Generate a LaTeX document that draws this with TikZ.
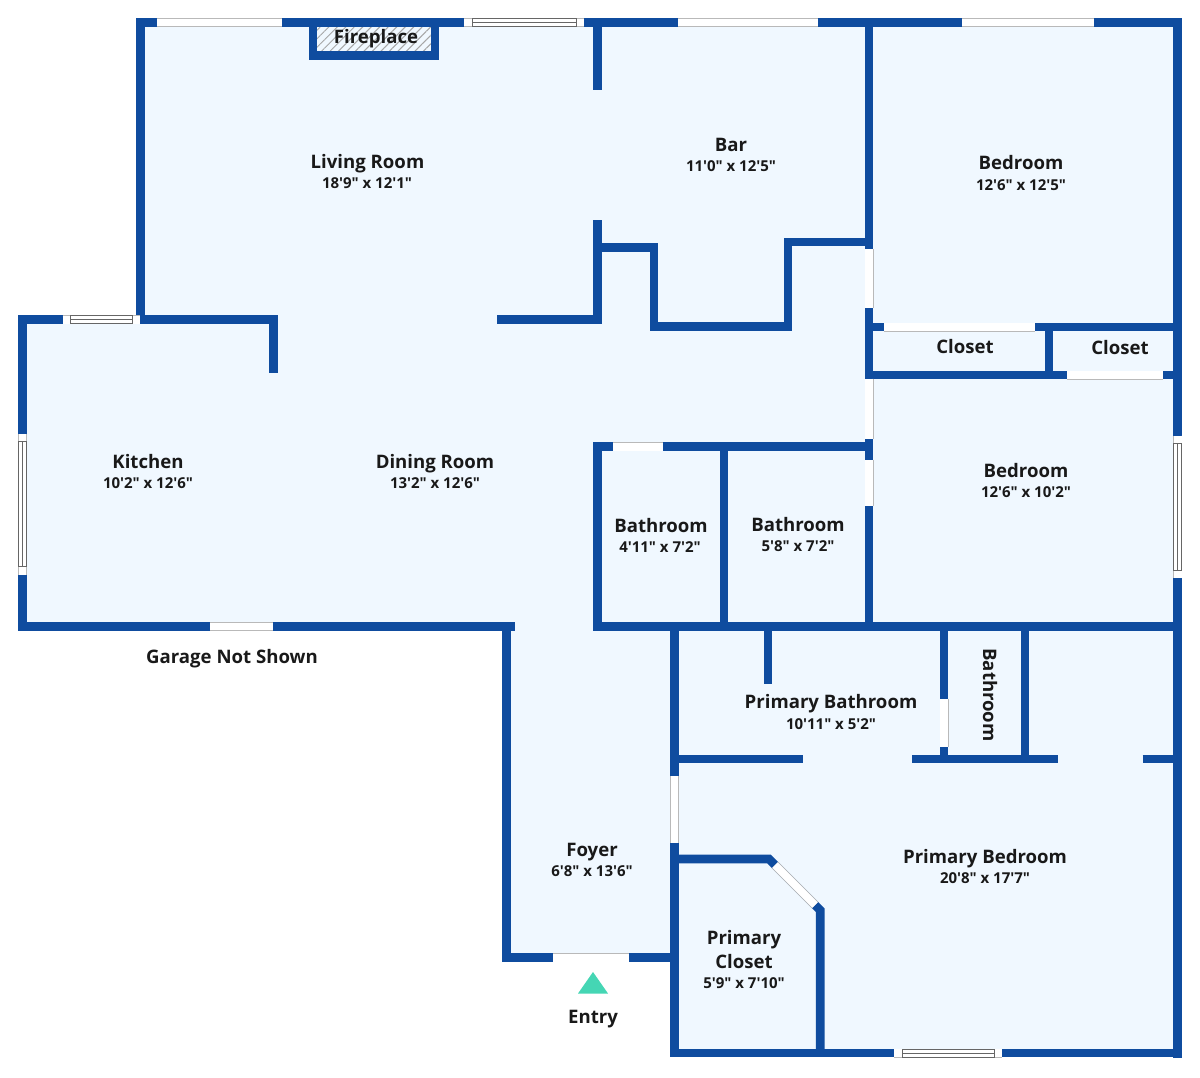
\documentclass[tikz,border=0pt]{standalone}
\usepackage{fontspec}
\setmainfont[Ligatures = TeXOff]{Open Sans}
\usetikzlibrary{patterns.meta}
\definecolor{wallblue}{HTML}{0F4C9F}
\definecolor{floorblue}{HTML}{F0F8FF}
\definecolor{entrygreen}{HTML}{45D6B4}
\tikzset{wall/.style = {draw = wallblue, line width = 8.7pt, line cap = butt, miter limit = 10}}
\tikzset{gap/.style = {draw = gray!55, line width = 0.7pt, double = white, double distance = 7.6pt}}
\tikzset{pane/.style = {draw = black!60, line width = 0.8pt}}
\tikzset{roomname/.style = {anchor = base, text = black!90, font = \fontsize{18.6}{22}\selectfont\bfseries}}
\tikzset{roomsize/.style = {anchor = base, text = black!90, font = \fontsize{15}{18}\selectfont\bfseries}}
\begin{document}
\begin{tikzpicture}[x = 1pt, y = -1pt]
      \useasboundingbox [fill = white] (0, 0) rectangle (1200, 1077);
      \fill [floorblue] (140, 22) -- (1178, 22) -- (1178, 1053) -- (675, 1053) -- (675, 958)
        -- (506, 958) -- (506, 626) -- (22, 626) -- (22, 320) -- (140, 320) -- cycle;
      \pattern [pattern = {Lines[angle = 45, distance = 6pt, line width = 1pt]}, pattern color = gray!70]
        (317, 26) rectangle (431, 52);
      \draw [wall] (136, 22.3) -- (1182, 22.3);
      \draw [wall] (1177.7, 18) -- (1177.7, 1058);
      \draw [wall] (670, 1053) -- (1182, 1053);
      \draw [wall] (140.5, 22) -- (140.5, 320);
      \draw [wall] (18, 319.7) -- (278, 319.7);
      \draw [wall] (22.3, 315.3) -- (22.3, 631);
      \draw [wall] (273.5, 320) -- (273.5, 373);
      \draw [wall] (18, 626.5) -- (515, 626.5);
      \draw [wall] (506.5, 626) -- (506.5, 962.2);
      \draw [wall] (502, 957.8) -- (675, 957.8);
      \draw [wall] (674.5, 626) -- (674.5, 1057);
      \draw [wall] (313, 22) -- (313, 55.7) -- (435, 55.7) -- (435, 22);
      \draw [wall] (597.3, 22) -- (597.3, 89.5);
      \draw [wall] (597.3, 220) -- (597.3, 324);
      \draw [wall] (497, 319.7) -- (602, 319.7);
      \draw [wall] (597, 247.5) -- (654, 247.5) -- (654, 326.5) -- (788, 326.5) -- (788, 242) -- (869, 242);
      \draw [wall] (869, 22) -- (869, 631);
      \draw [wall] (869, 327) -- (1178, 327);
      \draw [wall] (869, 375) -- (1178, 375);
      \draw [wall] (1049, 327) -- (1049, 375);
      \draw [wall] (593, 446.7) -- (869, 446.7);
      \draw [wall] (597.5, 443) -- (597.5, 631);
      \draw [wall] (724, 447) -- (724, 626);
      \draw [wall] (593, 626.5) -- (1178, 626.5);
      \draw [wall] (768, 626) -- (768, 684);
      \draw [wall] (944, 626) -- (944, 759);
      \draw [wall] (1025, 626) -- (1025, 759);
      \draw [wall] (912, 759) -- (1058.3, 759);
      \draw [wall] (1142.7, 759) -- (1178, 759);
      \draw [wall] (675, 759) -- (802.7, 759);
      \draw [wall] (675, 859) -- (769, 859) -- (820.3, 910.3) -- (820.3, 1053);
      \draw [gap] (157.3, 22.3) -- (281.7, 22.3);
      \draw [gap] (464, 22.3) -- (584, 22.3);
      \draw [pane] (472, 18.3) rectangle (576, 26.3);
      \draw [pane] (472, 22.3) -- (576, 22.3);
      \draw [gap] (678, 22.3) -- (818, 22.3);
      \draw [gap] (962, 22.3) -- (1094, 22.3);
      \draw [gap] (62.7, 319.7) -- (140, 319.7);
      \draw [pane] (70.7, 315.7) rectangle (132, 323.7);
      \draw [pane] (70.7, 319.7) -- (132, 319.7);
      \draw [gap] (22.3, 434) -- (22.3, 575);
      \draw [pane] (18.3, 441.7) rectangle (26.3, 566.7);
      \draw [pane] (22.3, 441.7) -- (22.3, 566.7);
      \draw [gap] (210, 626.5) -- (273, 626.5);
      \draw [gap] (869, 249) -- (869, 308);
      \draw [gap] (869, 378.7) -- (869, 439);
      \draw [gap] (869, 460) -- (869, 506);
      \draw [gap] (884, 327) -- (1035, 327);
      \draw [gap] (1067, 375) -- (1162.7, 375);
      \draw [gap] (1177.7, 435.7) -- (1177.7, 578);
      \draw [pane] (1173.7, 443) rectangle (1181.7, 570);
      \draw [pane] (1177.7, 443) -- (1177.7, 570);
      \draw [gap] (613, 446.7) -- (663, 446.7);
      \draw [gap] (944, 699) -- (944, 747);
      \draw [gap] (674.5, 776) -- (674.5, 842.7);
      \draw [gap] (775, 865) -- (815, 905);
      \draw [gap] (553, 957.8) -- (629, 957.8);
      \draw [gap] (894, 1053) -- (1002, 1053);
      \draw [pane] (902, 1049) rectangle (994, 1057);
      \draw [pane] (902, 1053) -- (994, 1053);
      \fill [entrygreen] (593, 972) -- (608, 993.5) -- (578, 993.5) -- cycle;
      \node [roomname] (fireplace) at (376, 43.5) {Fireplace};
      \node [roomname] (livingroom) at (367.5, 168) {Living Room};
      \node [roomsize] (livingsize) at (367, 188) {18'9" x 12'1"};
      \node [roomname] (bar) at (731, 151) {Bar};
      \node [roomsize] (barsize) at (731, 171) {11'0" x 12'5"};
      \node [roomname] (bedroomtop) at (1021, 169) {Bedroom};
      \node [roomsize] (bedroomtopsize) at (1021, 190) {12'6" x 12'5"};
      \node [roomname] (closetleft) at (965, 353) {Closet};
      \node [roomname] (closetright) at (1120, 354) {Closet};
      \node [roomname] (bedroommid) at (1026, 477) {Bedroom};
      \node [roomsize] (bedroommidsize) at (1026, 497) {12'6" x 10'2"};
      \node [roomname] (kitchen) at (148, 468) {Kitchen};
      \node [roomsize] (kitchensize) at (148, 488) {10'2" x 12'6"};
      \node [roomname] (diningroom) at (435, 468) {Dining Room};
      \node [roomsize] (diningsize) at (435, 488) {13'2" x 12'6"};
      \node [roomname] (bathleft) at (661, 532) {Bathroom};
      \node [roomsize] (bathleftsize) at (660, 552) {4'11" x 7'2"};
      \node [roomname] (bathright) at (798, 531) {Bathroom};
      \node [roomsize] (bathrightsize) at (798, 551) {5'8" x 7'2"};
      \node [roomname] (garage) at (232, 663) {Garage Not Shown};
      \node [roomname] (primarybath) at (831, 708) {Primary Bathroom};
      \node [roomsize] (primarybathsize) at (831, 729) {10'11" x 5'2"};
      \node [roomname, rotate = -90, anchor = center] (bathnarrow) at (990, 695) {Bathroom};
      \node [roomname] (foyer) at (592, 856) {Foyer};
      \node [roomsize] (foyersize) at (592, 876) {6'8" x 13'6"};
      \node [roomname] (primarybed) at (985, 863) {Primary Bedroom};
      \node [roomsize] (primarybedsize) at (985, 883) {20'8" x 17'7"};
      \node [roomname] (primarycloset) at (744, 944) {Primary};
      \node [roomname] (primaryclosettwo) at (744, 968) {Closet};
      \node [roomsize] (primaryclosetsize) at (744, 988) {5'9" x 7'10"};
      \node [roomname] (entry) at (593, 1023) {Entry};
    \end{tikzpicture}
\end{document}
